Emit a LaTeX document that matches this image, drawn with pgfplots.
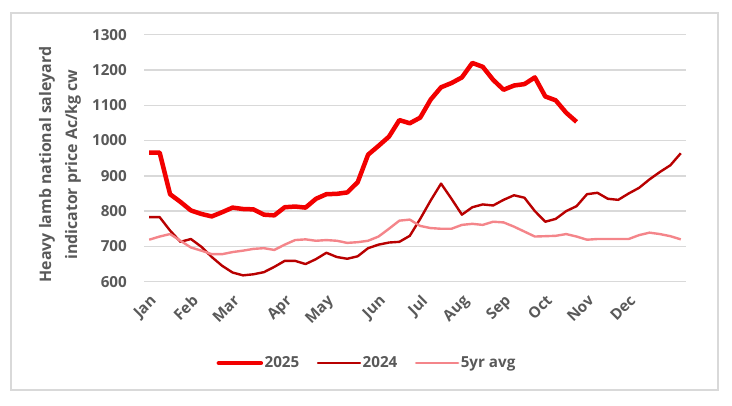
\documentclass[border=0pt]{standalone}
\usepackage{fontspec}
\setmainfont{Open Sans}
\usepackage{pgfplots}
\pgfplotsset{compat=1.18}

\definecolor{c2025}{HTML}{F20000}
\definecolor{c2024}{HTML}{B80000}
\definecolor{cavg}{HTML}{F4858A}
\definecolor{gridgray}{HTML}{D9D9D9}
\definecolor{textgray}{HTML}{595959}

\newcommand{\lbl}{\fontsize{15.2}{26}\selectfont\bfseries}
\newcommand{\ylbl}{\fontsize{15.9}{26}\selectfont\bfseries}

\begin{document}
\begin{tikzpicture}
\path (0pt,0pt) rectangle (732pt,405pt);
\draw[gridgray, line width=1.2pt] (11pt,15pt) rectangle (718pt,392pt);
\begin{axis}[
  at={(144pt,123.3pt)}, anchor=south west,
  scale only axis, width=542pt, height=247pt,
  xmin=-0.5, xmax=51.5, ymin=600, ymax=1300,
  ytick={600,700,...,1300},
  xtick={0,4,8,13,17,22,26,30,34,38,42,46},
  xticklabels={Jan,Feb,Mar,Apr,May,Jun,Jul,Aug,Sep,Oct,Nov,Dec},
  axis line style={draw=none},
  major tick length=0pt,
  ymajorgrids,
  grid style={draw=gridgray, line width=1.5pt},
  /pgf/number format/assume math mode=true,
  /pgf/number format/1000 sep={},
  tick label style={font=\lbl, text=textgray},
  yticklabel style={anchor=east, inner sep=0pt, xshift=-17pt},
  xticklabel style={inner sep=0pt, xshift=0pt, yshift=-12pt, rotate=45, anchor=north east},
  ylabel={Heavy lamb national saleyard\\indicator price Ac/kg cw},
  ylabel style={at={(axis description cs:-0.155,0.474)}, anchor=center,
    align=center, font=\ylbl, text=textgray},
  legend columns=3,
  legend style={at={(axis description cs:0.411,-0.33)}, anchor=center,
    draw=none, fill=none, font=\lbl, text=textgray,
    nodes={inner sep=1.5pt},
    /tikz/every even column/.append style={column sep=16pt}},
  legend image code/.code={\draw[#1, line cap=round] (0pt,0pt) -- (42pt,0pt);},
  every axis plot/.append style={line join=round},
]
% 2025
\addplot[c2025, line width=4.5pt] coordinates {
(0,966) (1,966) (2,848) (3,826) (4,802) (5,792) (6,785) (7,797) (8,810) (9,806)
(10,805) (11,790) (12,788) (13,811) (14,813) (15,810) (16,835) (17,848) (18,849) (19,853)
(20,882) (21,960) (22,985) (23,1011) (24,1058) (25,1049) (26,1065) (27,1116) (28,1151) (29,1163)
(30,1179) (31,1220) (32,1209) (33,1172) (34,1144) (35,1156) (36,1160) (37,1179) (38,1125) (39,1114)
(40,1079) (41,1053)};
% 2024
\addplot[c2024, line width=2.4pt] coordinates {
(0,783) (1,783) (2,745) (3,713) (4,721) (5,699) (6,670) (7,645) (8,626) (9,618)
(10,621) (11,627) (12,642) (13,659) (14,659) (15,650) (16,664) (17,682) (18,670) (19,665)
(20,672) (21,695) (22,705) (23,711) (24,713) (25,730) (26,778) (27,830) (28,878) (29,835)
(30,790) (31,811) (32,819) (33,816) (34,832) (35,845) (36,838) (37,800) (38,770) (39,778)
(40,800) (41,814) (42,848) (43,852) (44,835) (45,832) (46,850) (47,866) (48,890) (49,911)
(50,930) (51,964)};
% 5yr avg
\addplot[cavg, line width=2.4pt] coordinates {
(0,719) (1,728) (2,735) (3,716) (4,697) (5,688) (6,678) (7,678) (8,684) (9,688)
(10,693) (11,695) (12,690) (13,705) (14,718) (15,720) (16,716) (17,718) (18,716) (19,710)
(20,712) (21,716) (22,728) (23,750) (24,773) (25,776) (26,758) (27,752) (28,750) (29,750)
(30,761) (31,764) (32,761) (33,770) (34,768) (35,756) (36,742) (37,728) (38,729) (39,730)
(40,735) (41,728) (42,719) (43,721) (44,721) (45,721) (46,721) (47,732) (48,739) (49,735)
(50,729) (51,720)};
\legend{2025,2024,5yr avg}
\end{axis}
\end{tikzpicture}
\end{document}
